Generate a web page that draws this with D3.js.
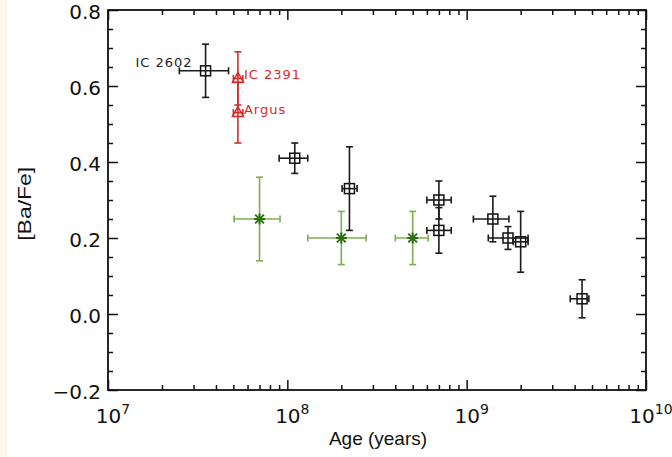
<!DOCTYPE html>
<html>
<head>
<meta charset="utf-8">
<script src="https://cdn.jsdelivr.net/npm/d3@7"></script>
<style>
  body { margin: 0; background: #ffffff; }
  .tick-label { font-family: "DejaVu Sans", sans-serif; font-size: 20px; fill: #111; }
  .axis-label { font-family: "Liberation Sans", Arial, sans-serif; font-size: 19px; fill: #111; }
  .point-label { font-family: "DejaVu Sans", sans-serif; font-size: 13px; letter-spacing: 1px; }
</style>
</head>
<body>
<div id="chart"></div>
<script>
// cluster data: age (years) with range, [Ba/Fe] with range
const blackNames = ["IC 2602", "", "", "", "", "", "", "", ""];
const blackAge   = [3.5e7, 1.1e8, 2.22e8, 7.0e8, 7.0e8, 1.4e9, 1.7e9, 2.0e9, 4.4e9];
const blackAgeLo = [2.5e7, 9.0e7, 2.02e8, 6.0e8, 6.0e8, 1.09e9, 1.32e9, 1.82e9, 3.78e9];
const blackAgeHi = [4.7e7, 1.3e8, 2.45e8, 8.2e8, 8.2e8, 1.72e9, 2.2e9, 2.2e9, 4.8e9];
const blackBa    = [0.64, 0.41, 0.33, 0.30, 0.22, 0.25, 0.20, 0.19, 0.04];
const blackBaLo  = [0.57, 0.37, 0.22, 0.25, 0.16, 0.19, 0.17, 0.11, -0.01];
const blackBaHi  = [0.71, 0.45, 0.44, 0.35, 0.28, 0.31, 0.23, 0.27, 0.09];

const redNames = ["IC 2391", "Argus"];
const redAge   = [5.3e7, 5.3e7];
const redAgeLo = [5.0e7, 5.0e7];
const redAgeHi = [5.65e7, 5.65e7];
const redBa    = [0.62, 0.53];
const redBaLo  = [0.55, 0.45];
const redBaHi  = [0.69, 0.61];

const greenAge   = [7.0e7, 2.0e8, 5.0e8];
const greenAgeLo = [5.05e7, 1.3e8, 4.0e8];
const greenAgeHi = [9.1e7, 2.75e8, 6.1e8];
const greenBa    = [0.25, 0.20, 0.20];
const greenBaLo  = [0.14, 0.13, 0.13];
const greenBaHi  = [0.36, 0.27, 0.27];

const yTicks = [-0.2, 0.0, 0.2, 0.4, 0.6, 0.8];
const xTicks = [1e7, 1e8, 1e9, 1e10];

const W = 672, H = 457;
const margin = {top: 10, right: 26, bottom: 67, left: 108},
    width = W - margin.left - margin.right,
    height = H - margin.top - margin.bottom;

const svg = d3.select("#chart").append("svg")
    .attr("width", W)
    .attr("height", H);

svg.append("rect").attr("width", W).attr("height", H).attr("fill", "#fff");
svg.append("rect").attr("width", 7).attr("height", H).attr("fill", "#fdf8ec");

const g = svg.append("g")
    .attr("transform", "translate(" + margin.left + "," + margin.top + ")");

const x = d3.scaleLog().domain([1e7, 1e10]).range([0, width]);
const y = d3.scaleLinear().domain([-0.2, 0.8]).range([height, 0]);

// minor ticks
const xMinor = [];
[1e7, 1e8, 1e9].forEach(d => { for (let k = 2; k <= 9; k++) xMinor.push(d * k); });
const yMinor = d3.range(-0.2, 0.8001, 0.05).filter(v => Math.abs(Math.round(v * 5) - v * 5) > 0.01);

function tickAxis(axis, vals, size, transform) {
  const a = g.append("g")
      .attr("transform", transform)
      .call(axis.tickValues(vals).tickSize(size).tickFormat(""));
  a.select(".domain").remove();
  a.selectAll("line").attr("stroke", "#111").attr("stroke-width", 1.5);
  return a;
}

// inward ticks on all four sides
tickAxis(d3.axisBottom(x), xTicks, -10, `translate(0,${height})`);
tickAxis(d3.axisBottom(x), xMinor, -5, `translate(0,${height})`);
tickAxis(d3.axisTop(x), xTicks, -10, "translate(0,0)");
tickAxis(d3.axisTop(x), xMinor, -5, "translate(0,0)");
tickAxis(d3.axisLeft(y), yTicks, -10, "translate(0,0)");
tickAxis(d3.axisLeft(y), yMinor, -5, "translate(0,0)");
tickAxis(d3.axisRight(y), yTicks, -10, `translate(${width},0)`);
tickAxis(d3.axisRight(y), yMinor, -5, `translate(${width},0)`);

// frame
g.append("rect")
    .attr("width", width).attr("height", height)
    .attr("fill", "none").attr("stroke", "#111").attr("stroke-width", 1.8);

// y tick labels
g.selectAll(".ylab").data(yTicks).enter().append("text")
    .attr("class", "tick-label")
    .attr("x", -7)
    .attr("y", d => y(d) + 9)
    .attr("text-anchor", "end")
    .text(d => d3.format(".1f")(d).replace("-", "\u2212"));

// x tick labels 10^n
const xl = g.selectAll(".xlab").data(xTicks).enter().append("text")
    .attr("class", "tick-label")
    .attr("x", d => x(d) + 5)
    .attr("y", height + 33)
    .attr("text-anchor", "middle");
xl.append("tspan").text("10");
xl.append("tspan").attr("dy", -9).attr("font-size", 14).text(d => Math.round(Math.log10(d)));

// axis titles
g.append("text")
    .attr("class", "axis-label")
    .attr("text-anchor", "middle")
    .attr("x", width / 2 + 1)
    .attr("y", height + 55)
    .text("Age (years)");

g.append("text")
    .attr("class", "axis-label")
    .attr("text-anchor", "middle")
    .attr("textLength", 74)
    .attr("lengthAdjust", "spacingAndGlyphs")
    .attr("transform", `translate(${-77},${y(0.29)}) rotate(-90)`)
    .text("[Ba/Fe]");

// error bars with end caps
function errorBars(layer, ages, lo, hi, ba, baLo, baHi, color) {
  const cap = 3.5;
  ages.forEach((a, i) => {
    const cx = x(a), cy = y(ba[i]);
    const segs = [
      [x(lo[i]), cy, x(hi[i]), cy],
      [x(lo[i]), cy - cap, x(lo[i]), cy + cap],
      [x(hi[i]), cy - cap, x(hi[i]), cy + cap],
      [cx, y(baLo[i]), cx, y(baHi[i])],
      [cx - cap, y(baLo[i]), cx + cap, y(baLo[i])],
      [cx - cap, y(baHi[i]), cx + cap, y(baHi[i])]
    ];
    layer.selectAll(null).data(segs).enter().append("line")
        .attr("x1", d => d[0]).attr("y1", d => d[1])
        .attr("x2", d => d[2]).attr("y2", d => d[3])
        .attr("stroke", color).attr("stroke-width", 1.6);
  });
}

// green stars
const gGreen = g.append("g");
errorBars(gGreen, greenAge, greenAgeLo, greenAgeHi, greenBa, greenBaLo, greenBaHi, "#7fae52");
greenAge.forEach((a, i) => {
  const cx = x(a), cy = y(greenBa[i]), r = 5.5;
  const arms = [[-r, 0, r, 0], [0, -r, 0, r], [-r * 0.8, -r * 0.8, r * 0.8, r * 0.8], [-r * 0.8, r * 0.8, r * 0.8, -r * 0.8]];
  gGreen.selectAll(null).data(arms).enter().append("line")
      .attr("x1", d => cx + d[0]).attr("y1", d => cy + d[1])
      .attr("x2", d => cx + d[2]).attr("y2", d => cy + d[3])
      .attr("stroke", "#2a7010").attr("stroke-width", 2);
});

// black squares
const gBlack = g.append("g");
errorBars(gBlack, blackAge, blackAgeLo, blackAgeHi, blackBa, blackBaLo, blackBaHi, "#1a1a1a");
gBlack.selectAll("rect.sq").data(blackAge).enter().append("rect")
    .attr("class", "sq")
    .attr("x", d => x(d) - 5)
    .attr("y", (d, i) => y(blackBa[i]) - 5)
    .attr("width", 10).attr("height", 10)
    .attr("fill", "none").attr("stroke", "#111").attr("stroke-width", 1.5);
gBlack.append("text")
    .attr("class", "point-label")
    .attr("x", x(blackAge[0]) - 13)
    .attr("y", y(blackBa[0]) - 4)
    .attr("text-anchor", "end")
    .attr("fill", "#222")
    .text(blackNames[0]);

// red triangles
const gRed = g.append("g");
errorBars(gRed, redAge, redAgeLo, redAgeHi, redBa, redBaLo, redBaHi, "#d42c2c");
gRed.selectAll("path.tri").data(redAge).enter().append("path")
    .attr("class", "tri")
    .attr("d", (d, i) => {
      const cx = x(d), cy = y(redBa[i]);
      return `M${cx - 5.5},${cy + 4}L${cx + 5.5},${cy + 4}L${cx},${cy - 6}Z`;
    })
    .attr("fill", "none").attr("stroke", "#d42c2c").attr("stroke-width", 1.5);
gRed.selectAll("text").data(redNames).enter().append("text")
    .attr("class", "point-label")
    .attr("x", x(redAge[0]) + 6)
    .attr("y", (d, i) => y(redBa[i]) + 1)
    .attr("fill", "#d42c2c")
    .text(d => d);
</script>
</body>
</html>
